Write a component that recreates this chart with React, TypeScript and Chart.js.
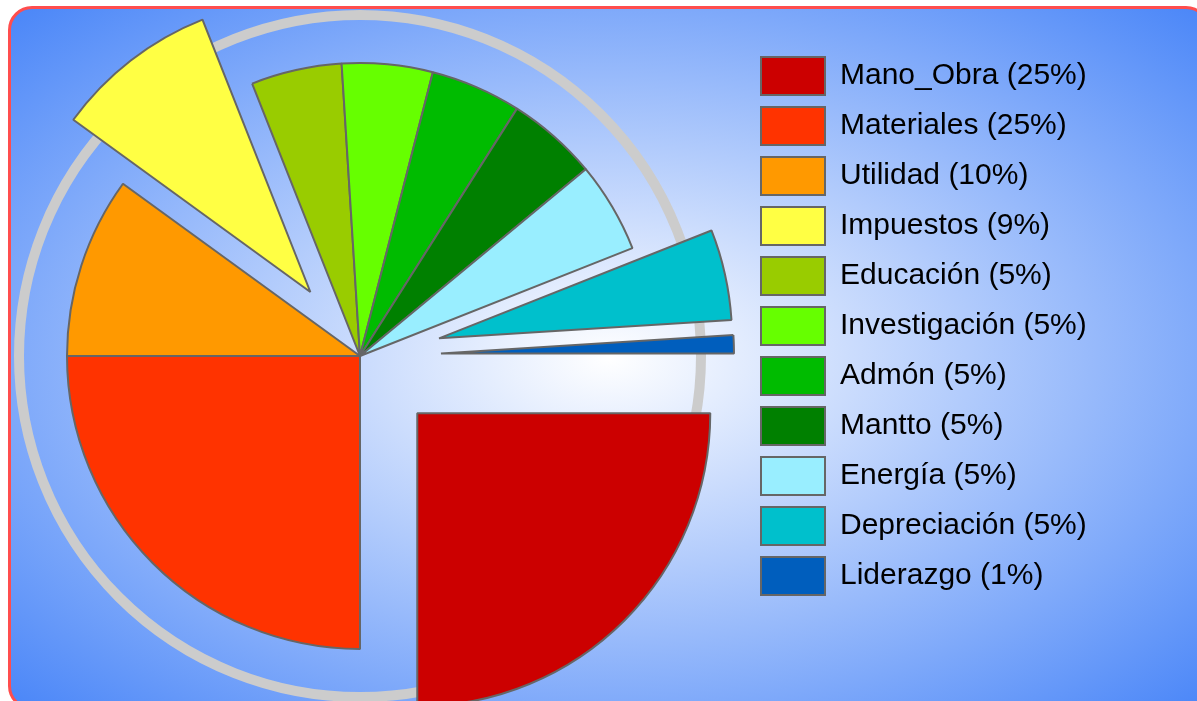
import React, { useEffect, useRef } from "react";
import { Chart, registerables } from "chart.js";

Chart.register(...registerables);

const categories = [
  "Mano_Obra",
  "Materiales",
  "Utilidad",
  "Impuestos",
  "Educación",
  "Investigación",
  "Admón",
  "Mantto",
  "Energía",
  "Depreciación",
  "Liderazgo",
];
const values = [25, 25, 10, 9, 5, 5, 5, 5, 5, 5, 1];
const sliceColors = [
  "#cc0000",
  "#ff3300",
  "#ff9900",
  "#ffff44",
  "#99cc00",
  "#66ff00",
  "#00bb00",
  "#008000",
  "#99eeff",
  "#00c0cc",
  "#005ebd",
];
const exploded = [true, false, false, true, false, false, false, false, false, true, true];

const EXPLODE_PX = 81;
const RADIUS = 293;
const FONT_FAMILY = "'Liberation Sans', Arial, Helvetica, sans-serif";

const total = values.reduce((a, b) => a + b, 0);

// Pull exploded slices straight out along their mid-angle, keeping their
// radius and angular size unchanged.
const explodePlugin = {
  id: "explodeSlices",
  afterDatasetUpdate(chart: any, args: any) {
    args.meta.data.forEach((arc: any, i: number) => {
      if (!exploded[i]) return;
      const mid = (arc.startAngle + arc.endAngle) / 2;
      arc.x += Math.cos(mid) * EXPLODE_PX;
      arc.y += Math.sin(mid) * EXPLODE_PX;
    });
  },
};

const ringPlugin = {
  id: "backRing",
  beforeDatasetsDraw(chart: any) {
    const { left, right, top, bottom } = chart.chartArea;
    const cx = (left + right) / 2;
    const cy = (top + bottom) / 2;
    const ctx = chart.ctx;
    ctx.save();
    ctx.beginPath();
    ctx.arc(cx, cy, RADIUS + 48, 0, Math.PI * 2);
    ctx.strokeStyle = "#cccccc";
    ctx.lineWidth = 10;
    ctx.stroke();
    ctx.restore();
  },
};

export default function App() {
  const canvasRef = useRef<HTMLCanvasElement | null>(null);

  useEffect(() => {
    if (!canvasRef.current) return;
    const chart = new Chart(canvasRef.current, {
      type: "pie",
      data: {
        labels: categories,
        datasets: [
          {
            data: values,
            backgroundColor: sliceColors,
            borderColor: "#666666",
            borderWidth: 2,
            hoverOffset: 0,
            clip: false,
          } as any,
        ],
      },
      options: {
        responsive: false,
        animation: false,
        rotation: 90,
        radius: RADIUS,
        events: [],
        layout: {
          padding: { left: 0, top: 45, right: 108, bottom: 93 },
        },
        plugins: {
          tooltip: { enabled: false },
          legend: {
            position: "right",
            align: "start",
            maxWidth: 340,
            labels: {
              boxWidth: 64,
              boxHeight: 38,
              padding: 12,
              color: "#000000",
              font: { family: FONT_FAMILY, size: 30 },
              generateLabels: (ch: any) => {
                const ds = ch.data.datasets[0];
                return ch.data.labels.map((label: string, i: number) => ({
                  text: `${label} (${Math.round((ds.data[i] / total) * 100)}%)`,
                  fillStyle: sliceColors[i],
                  strokeStyle: "#666666",
                  lineWidth: 2,
                  fontColor: "#000000",
                  hidden: false,
                  index: i,
                }));
              },
            },
          },
        },
      } as any,
      plugins: [explodePlugin, ringPlugin],
    });
    return () => chart.destroy();
  }, []);

  return (
    <>
      <style>{"html,body{overflow:hidden;}"}</style>
      <div
        style={{
          position: "absolute",
          left: 8,
          top: 6,
          width: 1202,
          height: 704,
          boxSizing: "border-box",
          border: "3px solid #ff4d4d",
          borderRadius: 24,
          background:
            "radial-gradient(ellipse farthest-corner at 50% 50%, #ffffff 0%, #4a86f8 100%)",
        }}
      />
      <canvas
        ref={canvasRef}
        width={1226}
        height={760}
        style={{ position: "absolute", left: -29, top: 0, width: 1226, height: 760 }}
      />
    </>
  );
}
